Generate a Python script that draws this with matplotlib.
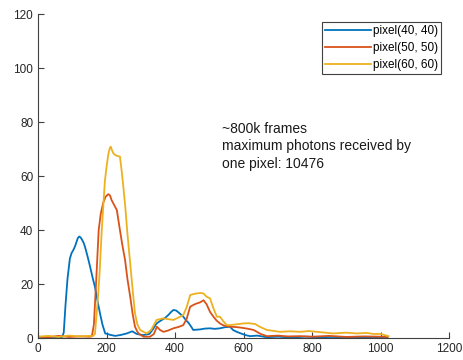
import matplotlib.pyplot as plt

# photon counts per frame bin for three pixels
blue_x = [0, 20, 40, 60, 70, 75, 80, 86, 93, 98, 103, 108, 112, 116, 120, 124, 128, 133, 137,
          144, 152, 159, 166, 174, 181, 188, 196, 203, 210, 225, 240, 259, 275, 288, 307, 325,
          335, 346, 355, 365, 372, 380, 388, 395, 403, 410, 417, 424, 432, 440, 447, 453, 463,
          473, 487, 502, 516, 531, 545, 560, 570, 580, 590, 605, 619, 640, 668, 700, 740, 780,
          820, 860, 900, 940, 980, 1020]
blue_y = [0.3, 0.2, 0.4, 0.2, 0.3, 2, 12, 22, 29.5, 31.5, 32.6, 34, 35.5, 37, 37.6, 37.3, 36.5,
          35.3, 33.8, 30.5, 26.4, 22.5, 19, 13.5, 9, 5, 1.7, 1.5, 1.2, 0.8, 1.1, 1.7, 2.5, 1.5,
          1.1, 1.5, 3.2, 5.4, 6.2, 7, 7.6, 8.5, 9.6, 10.4, 10.2, 9.5, 8.7, 7.9, 6.6, 5.5, 4.2,
          3, 3.1, 3.2, 3.5, 3.6, 3.4, 3.6, 4, 4.2, 2.9, 2.3, 1.8, 1.1, 0.7, 0.9, 0.3, 0.5, 0.2,
          0.5, 0.3, 0.4, 0.2, 0.3, 0.2, 0.3]

red_x = [0, 30, 60, 90, 120, 150, 157, 163, 170, 177, 183, 190, 197, 205, 210, 215, 222, 230,
         239, 246, 254, 261, 269, 276, 283, 290, 295, 308, 327, 338, 347, 356, 366, 380, 395,
         410, 424, 434, 444, 454, 463, 473, 483, 492, 502, 512, 521, 531, 541, 551, 560, 575,
         590, 610, 629, 650, 668, 700, 730, 765, 800, 850, 900, 950, 1000, 1020]
red_y = [0.5, 0.3, 0.8, 0.4, 0.6, 0.5, 0.6, 5, 22, 40, 46, 50, 52.3, 53.3, 52.8, 51, 49.3, 47.4,
         40, 34.5, 28.9, 21.8, 15.3, 9, 4.2, 2.3, 1.5, 0.5, 0.5, 1.5, 4.2, 3, 2.3, 2.8, 3.6,
         4.1, 4.8, 7.2, 11.6, 12.3, 12.8, 13.2, 14, 12.5, 9.7, 7.9, 6.5, 5.4, 4.7, 4.4, 4.2,
         4.1, 3.9, 3.5, 3, 1.5, 0.7, 0.9, 0.6, 0.7, 0.5, 0.8, 0.4, 0.6, 0.5, 0.4]

yellow_x = [0, 30, 60, 90, 120, 150, 160, 166, 171, 176, 180, 186, 190, 195, 200, 205, 209, 212,
            216, 220, 225, 230, 239, 244, 249, 255, 260, 265, 269, 276, 283, 290, 298, 317, 330,
            346, 356, 366, 380, 395, 410, 424, 434, 444, 454, 463, 473, 483, 492, 502, 512, 522,
            531, 541, 551, 560, 580, 599, 615, 633, 650, 668, 706, 735, 765, 790, 814, 862,
            900, 930, 960, 979, 1000, 1023]
yellow_y = [0.5, 0.8, 0.4, 0.9, 0.6, 0.8, 0.7, 1.5, 9, 17, 25, 40, 48, 58, 63.5, 68, 70.2, 70.9,
            69.5, 68.4, 67.8, 67.5, 67.2, 62, 56, 48, 40, 33, 27.7, 18, 9.1, 5, 3, 1.7, 3, 6.7,
            7, 7.3, 7, 6.7, 7.6, 8.5, 11.5, 15.9, 16.3, 16.5, 16.7, 16.5, 15.3, 14.7, 11, 7.9,
            7.9, 6.2, 4.8, 4.8, 5.1, 5.4, 5.5, 5.2, 4, 3, 2.3, 2.5, 2.3, 2.6, 2.3, 1.7, 2, 1.7,
            1.9, 1.5, 1.5, 0.7]

labels = ["pixel(40, 40)", "pixel(50, 50)", "pixel(60, 60)"]
colors = ["#0072BD", "#D95319", "#EDB120"]

plt.rcParams['font.family'] = ['Liberation Sans', 'DejaVu Sans']

fig = plt.figure(figsize=(4.64, 3.60), dpi=100)
ax = fig.add_axes([0.082, 0.061, 0.886, 0.9])

ax.plot(blue_x, blue_y, color=colors[0], lw=1.3, label=labels[0])
ax.plot(red_x, red_y, color=colors[1], lw=1.3, label=labels[1])
ax.plot(yellow_x, yellow_y, color=colors[2], lw=1.3, label=labels[2])

ax.set_xlim(0, 1200)
ax.set_ylim(0, 120)
ax.set_xticks(range(0, 1201, 200))
ax.set_yticks(range(0, 121, 20))

for s in ["top", "right"]:
    ax.spines[s].set_visible(False)
for s in ["left", "bottom"]:
    ax.spines[s].set_color("#404040")
    ax.spines[s].set_linewidth(0.8)
ax.tick_params(direction="in", length=4, width=0.8, colors="#404040",
               labelcolor="#262626", labelsize=8.5)

ax.text(537, 80, "~800k frames\nmaximum photons received by\none pixel: 10476",
        fontsize=10, va="top", ha="left", linespacing=1.3, color="#1a1a1a")

leg = ax.legend(loc="upper right", bbox_to_anchor=(0.985, 0.983), fontsize=8.5,
                fancybox=False, framealpha=1, edgecolor="#404040",
                handlelength=3.9, handletextpad=0.15, borderpad=0.25, labelspacing=0.42,
                borderaxespad=0.2)
leg.get_frame().set_linewidth(0.8)

fig.savefig("out.png", dpi=100)
